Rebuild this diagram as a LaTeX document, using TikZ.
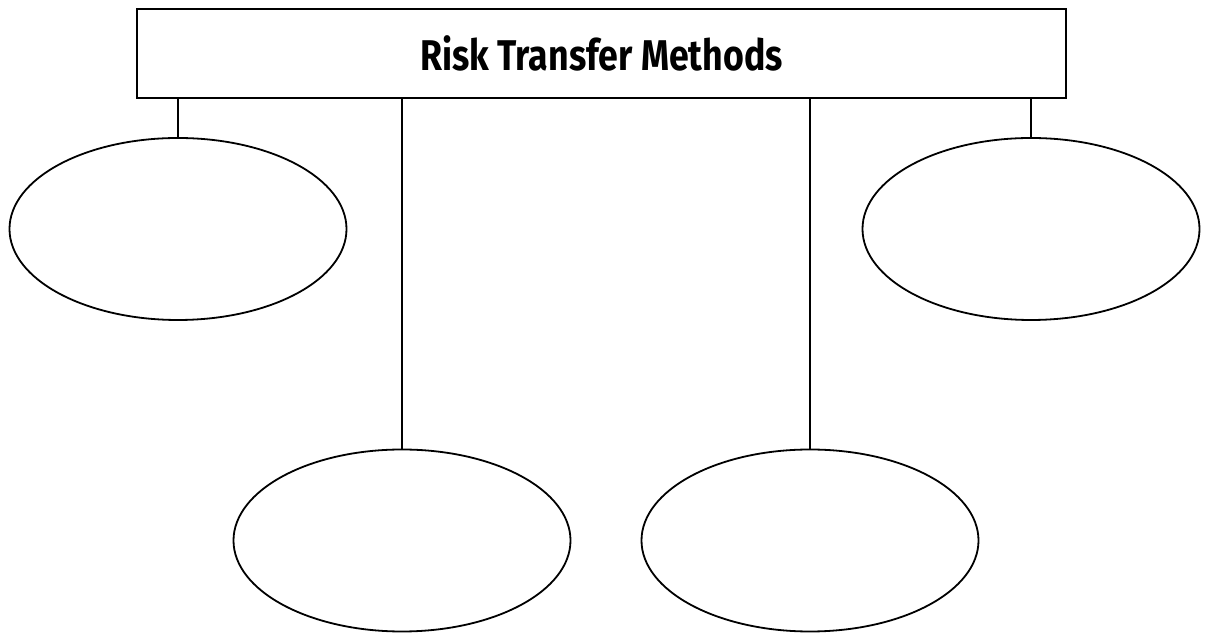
\documentclass[tikz,border=0pt]{standalone}
\usepackage{fontspec}
\setsansfont{Fira Sans}[FakeStretch=0.83]
\usetikzlibrary{shapes.geometric}

\begin{document}
\begin{tikzpicture}[x=1pt,y=1pt,
    titlebox/.style={rectangle, draw, line width=2pt, minimum width=929pt,
        minimum height=89pt, inner sep=0pt, font=\sffamily\bfseries\fontsize{43}{46}\selectfont},
    method/.style={ellipse, draw, line width=1.8pt, minimum width=337pt,
        minimum height=182pt, inner sep=0pt},
    link/.style={line width=1.8pt}]

    \useasboundingbox (0,0) rectangle (1205,634);

    \node[titlebox] (T) at (601.5,580.5) {Risk Transfer Methods};
    \node[method] (A) at (178,405) {};
    \node[method] (B) at (1031,405) {};
    \node[method] (C) at (402,93.5) {};
    \node[method] (D) at (810,93.5) {};

    \draw[link] (T.south -| A.north) -- (A.north);
    \draw[link] (T.south -| B.north) -- (B.north);
    \draw[link] (T.south -| C.north) -- (C.north);
    \draw[link] (T.south -| D.north) -- (D.north);
\end{tikzpicture}
\end{document}
